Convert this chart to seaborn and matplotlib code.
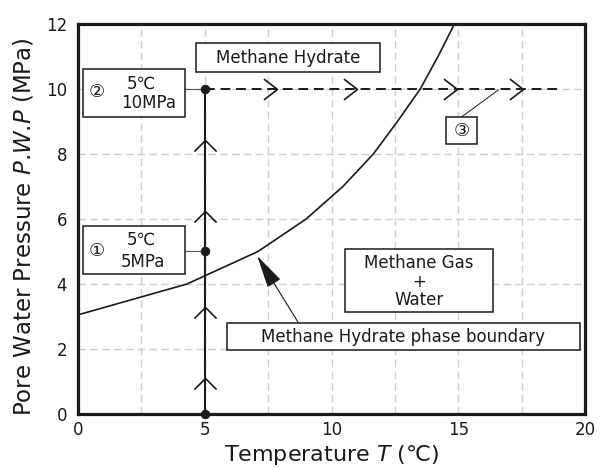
import numpy as np
import matplotlib
matplotlib.use("Agg")
import matplotlib.pyplot as plt
from matplotlib.path import Path
from matplotlib.patches import Rectangle
import seaborn as sns

# Methane hydrate phase boundary (temperature in degC, pressure in MPa)
boundary_T = [0.0, 4.3, 7.1, 9.0, 10.45, 11.65, 12.6, 13.5, 14.2, 14.85]
boundary_P = [3.05, 4.0, 5.0, 6.0, 7.0, 8.0, 9.0, 10.0, 11.0, 12.0]

# Loading path: pressurise at constant temperature, then heat at constant pressure
path_T = [5, 5]
path_P = [0, 10]
heat_T = [5, 18.9]
heat_P = [10, 10]

# State points along the path
state_T = [5, 5, 5]
state_P = [0, 5, 10]

# Direction markers on the path
up_arrow_P = [1.1, 3.3, 6.25, 8.43]
right_arrow_T = [7.84, 11.0, 14.94, 17.57]

x_ticks = [0, 5, 10, 15, 20]
y_ticks = [0, 2, 4, 6, 8, 10, 12]

sns.set_style("white")
plt.rcParams["font.family"] = ["DejaVu Sans"]
plt.rcParams["mathtext.fontset"] = "dejavusans"

fig = plt.figure(figsize=(6.03, 4.69), dpi=100)
ax = fig.add_axes([0.1294, 0.1173, 0.8408, 0.8316])

ink = "#1a1a1a"

# grid
ax.set_xlim(0, 20)
ax.set_ylim(0, 12)
ax.set_xticks(x_ticks)
ax.set_xticks(np.arange(2.5, 20, 5), minor=True)
ax.set_yticks(y_ticks)
ax.grid(which="both", axis="x", color="#cfcfcf", lw=1.0, ls=(0, (5.5, 3)), zorder=0)
ax.grid(which="major", axis="y", color="#cfcfcf", lw=1.0, ls=(0, (5.5, 3)), zorder=0)
ax.tick_params(which="both", length=0, labelsize=12, colors=ink)
ax.tick_params(axis="x", pad=5)
ax.tick_params(axis="y", pad=8)
for s in ax.spines.values():
    s.set_visible(True)
    s.set_linewidth(2.3)
    s.set_color(ink)

# phase boundary
sns.lineplot(x=boundary_T, y=boundary_P, ax=ax, color=ink, lw=1.2,
             estimator=None, sort=False, zorder=3)

# loading path
sns.lineplot(x=path_T, y=path_P, ax=ax, color=ink, lw=1.5,
             estimator=None, sort=False, zorder=3)
sns.lineplot(x=heat_T, y=heat_P, ax=ax, color=ink, lw=1.4,
             estimator=None, sort=False, zorder=3, linestyle=(0, (5, 3)))

chev_up = Path([(-1, -1), (0, 0), (1, -1)], [Path.MOVETO, Path.LINETO, Path.LINETO])
chev_right = Path([(-1.3, 1), (0, 0), (-1.3, -1)], [Path.MOVETO, Path.LINETO, Path.LINETO])
ax.plot([5] * len(up_arrow_P), up_arrow_P, ls="none", marker=chev_up, ms=16,
        mfc="none", mec=ink, mew=1.2, zorder=4)
ax.plot(right_arrow_T, [10] * len(right_arrow_T), ls="none", marker=chev_right, ms=19.5,
        mfc="none", mec=ink, mew=1.2, zorder=4)

sns.scatterplot(x=state_T, y=state_P, ax=ax, color=ink, s=40, edgecolor=ink,
                zorder=6, clip_on=False)


def box(x0, x1, y0, y1):
    ax.add_patch(Rectangle((x0, y0), x1 - x0, y1 - y0, facecolor="white",
                           edgecolor=ink, lw=1.1, zorder=5))


def label(x, y, s, size=12):
    ax.text(x, y, s, ha="center", va="center", fontsize=size, color=ink, zorder=7)


# state 2
ax.plot([4.23, 5], [10, 10], color="#555555", lw=0.8, zorder=4)
box(0.18, 4.23, 9.13, 10.62)
label(0.74, 9.9, "②", 13)
label(2.51, 10.17, "5℃")
label(2.77, 9.56, "10MPa")

# state 1
ax.plot([4.23, 5], [5, 5], color="#555555", lw=0.8, zorder=4)
box(0.18, 4.23, 4.3, 5.79)
label(0.74, 5.0, "①", 13)
label(2.51, 5.35, "5℃")
label(2.58, 4.69, "5MPa")

# state 3
ax.plot([15.13, 16.58], [9.14, 9.97], color=ink, lw=0.7, zorder=4)
box(14.52, 15.74, 8.31, 9.14)
label(15.13, 8.72, "③", 13)

# region labels
box(4.65, 11.91, 10.52, 11.42)
label(8.28, 10.96, "Methane Hydrate")

box(10.53, 16.37, 3.14, 5.08)
label(13.45, 4.64, "Methane Gas")
label(13.45, 4.06, "+")
label(13.45, 3.5, "Water")

box(5.86, 19.8, 1.97, 2.81)
label(12.83, 2.38, "Methane Hydrate phase boundary")
ax.annotate("", xy=(7.07, 4.86), xytext=(8.69, 2.81),
            arrowprops=dict(arrowstyle="-|>,head_length=1.3,head_width=0.3",
                            color=ink, lw=0.8, mutation_scale=16, shrinkA=0, shrinkB=0),
            zorder=6)

ax.set_xlabel("Temperature $T$ (℃)", fontsize=16, color=ink)
ax.set_ylabel("Pore Water Pressure $P$.$W$.$P$ (MPa)", fontsize=16.5, color=ink)
ax.xaxis.label.set_va("center")
ax.yaxis.label.set_va("center")
ax.xaxis.set_label_coords(0.5, -0.105)
ax.yaxis.set_label_coords(-0.107, 0.48)

fig.savefig("out.png", dpi=100)
